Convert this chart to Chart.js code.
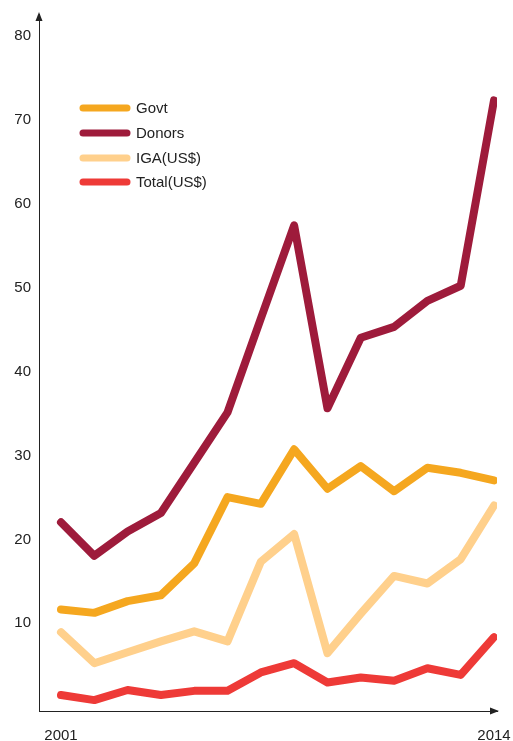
<!DOCTYPE html>
<html>
<head>
<meta charset="utf-8">
<script src="https://cdn.jsdelivr.net/npm/chart.js@4"></script>
<style>
  html, body { margin: 0; padding: 0; background: #fff; }
  #wrap { width: 513px; height: 741px; }
</style>
</head>
<body>
<div id="wrap"><canvas id="grafico" width="513" height="741"></canvas></div>
<script>
// datos por año
const years = [2001, 2002, 2003, 2004, 2005, 2006, 2007, 2008, 2009, 2010, 2011, 2012, 2013, 2014];
const govt = [11.4, 11.0, 12.4, 13.1, 16.9, 24.8, 24.0, 30.5, 25.8, 28.5, 25.5, 28.3, 27.7, 26.8];
const donors = [21.8, 17.8, 20.7, 22.9, 28.9, 34.9, 46.1, 57.2, 35.4, 43.8, 45.1, 48.2, 50.0, 72.1];
const iga = [8.7, 5.0, 6.3, 7.6, 8.8, 7.6, 17.1, 20.4, 6.2, 10.9, 15.4, 14.5, 17.4, 23.8];
const total = [1.2, 0.6, 1.8, 1.2, 1.7, 1.7, 3.9, 5.0, 2.7, 3.3, 2.9, 4.4, 3.6, 8.1];

const seriesNames = ["Govt", "Donors", "IGA(US$)", "Total(US$)"];
const seriesColors = ["#F5A71F", "#9E1B3B", "#FFD08C", "#EE3A37"];
const yTicks = [10, 20, 30, 40, 50, 60, 70, 80];
const xTicks = [2001, 2014];

const FONT = "'Liberation Sans', Arial, Helvetica, sans-serif";

const toPoints = (arr) => arr.map((v, i) => ({ x: i, y: v }));

// leyenda y flechas de los ejes
const extras = {
  id: "extras",
  afterDraw(chart) {
    const ctx = chart.ctx;
    const area = chart.chartArea;
    ctx.save();
    ctx.fillStyle = "#222";
    // flecha eje y
    ctx.beginPath();
    ctx.moveTo(area.left, area.top - 2);
    ctx.lineTo(area.left - 3.5, area.top + 7);
    ctx.lineTo(area.left + 3.5, area.top + 7);
    ctx.closePath();
    ctx.fill();
    // flecha eje x
    ctx.beginPath();
    ctx.moveTo(area.right + 2, area.bottom);
    ctx.lineTo(area.right - 7, area.bottom - 3.5);
    ctx.lineTo(area.right - 7, area.bottom + 3.5);
    ctx.closePath();
    ctx.fill();

    // leyenda
    const rows = [108, 133, 158, 182];
    ctx.lineCap = "round";
    ctx.lineWidth = 7;
    ctx.font = "15px " + FONT;
    ctx.textBaseline = "middle";
    chart.data.datasets.forEach((ds, i) => {
      ctx.strokeStyle = ds.borderColor;
      ctx.beginPath();
      ctx.moveTo(83, rows[i]);
      ctx.lineTo(127, rows[i]);
      ctx.stroke();
      ctx.fillStyle = "#222";
      ctx.fillText(ds.label, 136, rows[i] + 1);
    });
    ctx.restore();
  },
};

const canvas = document.getElementById("grafico");
const datasets = [govt, donors, iga, total].map((arr, i) => ({
  label: seriesNames[i],
  data: toPoints(arr),
  borderColor: seriesColors[i],
  backgroundColor: seriesColors[i],
  borderWidth: 8,
  borderCapStyle: "round",
  borderJoinStyle: "round",
  pointRadius: 0,
  tension: 0,
  fill: false,
}));

new Chart(canvas, {
  type: "line",
  data: { datasets },
  options: {
    responsive: false,
    animation: false,
    layout: { padding: { top: 14, right: 16, left: 0, bottom: 0 } },
    plugins: { legend: { display: false }, tooltip: { enabled: false } },
    scales: {
      x: {
        type: "linear",
        min: -0.66,
        max: 13.09,
        grid: { display: false, drawTicks: false },
        border: { display: true, color: "#222", width: 1 },
        afterBuildTicks: (scale) => {
          scale.ticks = xTicks.map((y) => ({ value: years.indexOf(y) }));
        },
        afterFit: (scale) => {
          scale.height = 30;
          scale.paddingLeft = 0;
          scale.paddingRight = 0;
        },
        ticks: {
          color: "#222",
          font: { family: FONT, size: 15 },
          padding: 16,
          maxRotation: 0,
          callback: (v) => years[v],
        },
      },
      y: {
        min: -0.7,
        max: 82.4,
        grid: { display: false, drawTicks: false },
        border: { display: true, color: "#222", width: 1 },
        afterBuildTicks: (scale) => {
          scale.ticks = yTicks.map((v) => ({ value: v }));
        },
        afterFit: (scale) => {
          scale.width = 39;
          scale.paddingTop = 0;
          scale.paddingBottom = 0;
        },
        ticks: {
          color: "#222",
          font: { family: FONT, size: 15 },
          padding: 8,
          labelOffset: 2,
        },
      },
    },
  },
  plugins: [extras],
});
</script>
</body>
</html>
